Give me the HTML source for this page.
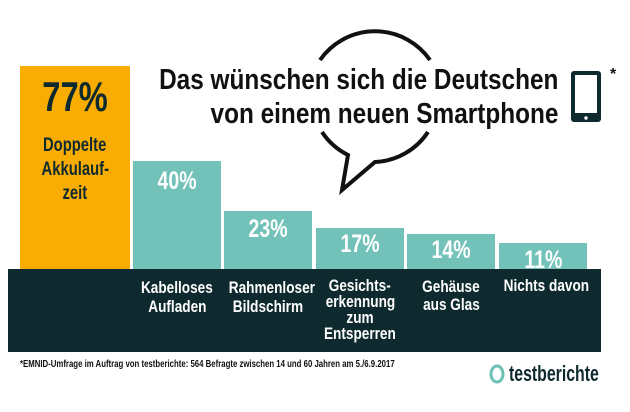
<!DOCTYPE html>
<html><head><style>
body{margin:0;width:630px;height:412px;background:#fff;position:relative;overflow:hidden;font-family:"Liberation Sans",sans-serif;font-weight:bold}
.a{position:absolute}
.n{display:inline-block;transform:scaleX(0.78);white-space:nowrap}
.bar{position:absolute;background:#72c2b9;color:#fff;text-align:center;font-size:25px}
.lab{position:absolute;color:#fff;text-align:center;font-size:17px;line-height:19px;top:278px;width:100px;white-space:nowrap}
.lab span{display:inline-block;transform:scaleX(0.8)}
</style></head><body>
<svg class="a" style="left:0;top:0" width="630" height="412">
<path d="M320,60 A67,67 0 0 1 430,60" fill="none" stroke="#111" stroke-width="4"/>
<path d="M322,132 A67,67 0 0 0 348,155 L342,190 L375,162 A67,67 0 0 0 428,132" fill="none" stroke="#111" stroke-width="4" stroke-linejoin="miter"/>
<rect x="571" y="71" width="30" height="51" rx="3" fill="#0f2a2e"/>
<rect x="575" y="75" width="22" height="38" fill="#fff"/>
<circle cx="586" cy="118" r="1.7" fill="#fff"/>
<ellipse cx="497" cy="374" rx="6" ry="8" fill="none" stroke="#6cc0b4" stroke-width="3"/>
</svg>
<div class="a" style="left:20px;top:66px;width:110px;height:203px;background:#f9ad02;color:#0f2a2e;text-align:center">
<div style="font-size:42px;margin-top:8px;line-height:46px"><span class="n">77%</span></div>
<div style="font-size:19px;line-height:24px;margin-top:14px"><span class="n">Doppelte</span><br><span class="n">Akkulauf-</span><br><span class="n">zeit</span></div></div>
<div class="bar" style="left:133px;top:161px;width:88px;height:108px;line-height:40px"><span class="n">40%</span></div>
<div class="bar" style="left:224px;top:211px;width:88px;height:58px;line-height:36px"><span class="n">23%</span></div>
<div class="bar" style="left:316px;top:228px;width:88px;height:41px;line-height:32px"><span class="n">17%</span></div>
<div class="bar" style="left:407px;top:234px;width:88px;height:35px;line-height:32px"><span class="n">14%</span></div>
<div class="bar" style="left:499px;top:243px;width:88px;height:26px;line-height:34px;overflow:hidden"><span class="n">11%</span></div>
<div class="a" style="left:8px;top:269px;width:593px;height:83px;background:#0f2a2e"></div>
<div class="lab" style="left:127px"><span>Kabelloses</span><br><span>Aufladen</span></div>
<div class="lab" style="left:218px"><span>Rahmenloser</span><br><span>Bildschirm</span></div>
<div class="lab" style="left:310px;line-height:16px"><span>Gesichts-</span><br><span>erkennung</span><br><span>zum</span><br><span>Entsperren</span></div>
<div class="lab" style="left:401px;line-height:18px"><span>Gehäuse</span><br><span>aus Glas</span></div>
<div class="lab" style="left:493px;top:276px"><span>Nichts davon</span></div>
<div class="a" style="right:72px;top:63px;text-align:right;font-size:29px;line-height:34px;color:#111;white-space:nowrap;transform:scaleX(0.84);transform-origin:right top">Das wünschen sich die Deutschen<br>von einem neuen Smartphone</div>
<div class="a" style="left:610px;top:66px;font-size:16px;color:#111">*</div>
<div class="a" style="left:20px;top:359px;font-size:10px;color:#111;white-space:nowrap;transform:scaleX(0.78);transform-origin:left top">*EMNID-Umfrage im Auftrag von testberichte: 564 Befragte zwischen 14 und 60 Jahren am 5./6.9.2017</div>
<div class="a" style="left:509px;top:361px;font-size:22px;color:#0f2a2e;white-space:nowrap;transform:scaleX(0.72);transform-origin:left top">testberichte</div>
</body></html>
